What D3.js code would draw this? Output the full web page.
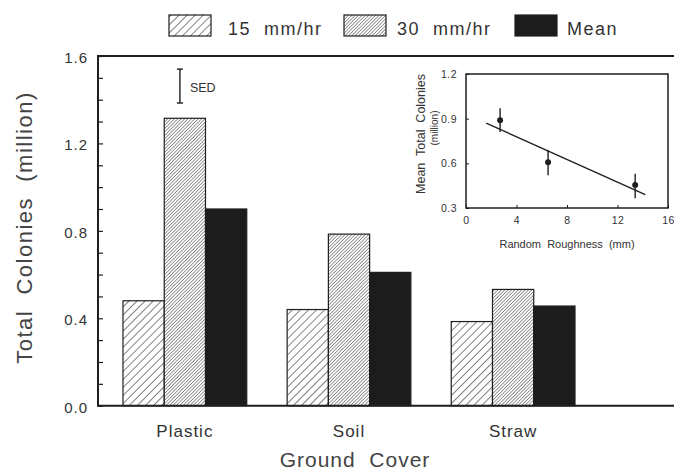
<!DOCTYPE html>
<html>
<head>
<meta charset="utf-8">
<script src="https://cdn.jsdelivr.net/npm/d3@7/dist/d3.min.js"></script>
<style>
  html, body { margin: 0; padding: 0; background: #fff; }
  svg { display: block; font-family: "Liberation Sans", Arial, Helvetica, sans-serif; }
  text { white-space: pre; }
</style>
</head>
<body>
<svg id="chart" width="674" height="472"></svg>
<script>
// ---------- data ----------
const categories = ["Plastic", "Soil", "Straw"];
const seriesNames = ["15  mm/hr", "30  mm/hr", "Mean"];
const values15 = [0.48, 0.44, 0.385];
const values30 = [1.315, 0.785, 0.532];
const valuesMean = [0.90, 0.61, 0.456];
const yTicks = [0.0, 0.4, 0.8, 1.2, 1.6];
const sedRange = [1.385, 1.54];

// inset data
const roughness = [2.7, 6.5, 13.4];
const meanColonies = [0.89, 0.607, 0.455];
const errLow = [0.81, 0.52, 0.365];
const errHigh = [0.97, 0.69, 0.53];
const fitX = [1.6, 14.2];
const fitY = [0.87, 0.39];
const insetXTicks = [0, 4, 8, 12, 16];
const insetYTicks = [0.3, 0.6, 0.9, 1.2];

(function () {
// ---------- setup ----------
const svg = d3.select("#chart");
const ink = "#1e1e1e";
const txt = "#333";

const defs = svg.append("defs");
function hatch(id, spacing, width) {
  const p = defs.append("pattern")
    .attr("id", id)
    .attr("patternUnits", "userSpaceOnUse")
    .attr("width", spacing).attr("height", spacing)
    .attr("patternTransform", "rotate(45)");
  p.append("rect").attr("width", spacing).attr("height", spacing).attr("fill", "#fff");
  p.append("line").attr("x1", 0).attr("y1", 0).attr("x2", 0).attr("y2", spacing)
    .attr("stroke", ink).attr("stroke-width", width);
}
hatch("h15", 5.7, 1.1);
hatch("h30", 2.4, 0.9);
const fills = ["url(#h15)", "url(#h30)", "#1c1c1c"];

// ---------- main chart ----------
const mLeft = 98, mTop = 56, mBottom = 405.7, mRight = 690;
const y = d3.scaleLinear().domain([0, 1.6]).range([mBottom, mTop]);
const x0 = d3.scaleBand().domain(categories).range([123, 575]).paddingInner(0.246).paddingOuter(0);
const x1 = d3.scaleBand().domain(seriesNames).range([0, x0.bandwidth()]).padding(0);

const rows = categories.map((c, i) => ({
  cat: c,
  vals: [values15[i], values30[i], valuesMean[i]]
}));

const groups = svg.append("g").selectAll("g").data(rows).join("g")
  .attr("transform", d => `translate(${x0(d.cat)},0)`);
groups.selectAll("rect").data(d => d.vals.map((v, k) => ({ v, k })))
  .join("rect")
  .attr("x", d => x1(seriesNames[d.k]))
  .attr("y", d => y(d.v))
  .attr("width", x1.bandwidth())
  .attr("height", d => y(0) - y(d.v))
  .attr("fill", d => fills[d.k])
  .attr("stroke", ink)
  .attr("stroke-width", 1.2);

// y axis with inward ticks every 0.1
const minor = d3.range(0, 17).map(i => i / 10);
const yAxis = d3.axisLeft(y).tickValues(minor)
  .tickSizeInner(-5).tickSizeOuter(0).tickPadding(10)
  .tickFormat(d => yTicks.some(t => Math.abs(t - d) < 1e-6) ? d3.format(".1f")(d) : "");
const ya = svg.append("g").attr("transform", `translate(${mLeft},0)`).call(yAxis);
ya.select(".domain").remove();
ya.selectAll("line").attr("stroke", ink).attr("stroke-width", 1.2);
ya.selectAll("text").attr("font-size", 15).attr("fill", txt)
  .attr("letter-spacing", 1).attr("dy", "0.42em");

// frame
svg.append("line").attr("x1", mLeft).attr("x2", mLeft).attr("y1", mTop).attr("y2", mBottom)
  .attr("stroke", ink).attr("stroke-width", 2);
svg.append("line").attr("x1", mLeft - 1).attr("x2", mRight).attr("y1", mTop).attr("y2", mTop)
  .attr("stroke", ink).attr("stroke-width", 2);
svg.append("line").attr("x1", mLeft - 1).attr("x2", mRight).attr("y1", mBottom).attr("y2", mBottom)
  .attr("stroke", ink).attr("stroke-width", 2);

// category labels
svg.append("g").selectAll("text").data(categories).join("text")
  .attr("x", d => x0(d) + x0.bandwidth() / 2)
  .attr("y", 437)
  .attr("text-anchor", "middle")
  .attr("font-size", 17).attr("letter-spacing", 1).attr("fill", txt)
  .text(d => d);

// axis titles
svg.append("text").attr("x", 355).attr("y", 467).attr("text-anchor", "middle")
  .attr("font-size", 21).attr("letter-spacing", 1).attr("fill", "#444")
  .text("Ground  Cover");
svg.append("text").attr("transform", "translate(32,227.5) rotate(-90)")
  .attr("text-anchor", "middle")
  .attr("font-size", 22).attr("letter-spacing", 1.5).attr("fill", "#444")
  .text("Total  Colonies  (million)");

// SED bar
const sedX = x0("Plastic") + x1.bandwidth() * 1.38;
const sed = svg.append("g").attr("stroke", ink).attr("stroke-width", 1.4);
sed.append("line").attr("x1", sedX).attr("x2", sedX).attr("y1", y(sedRange[0])).attr("y2", y(sedRange[1]));
sed.append("line").attr("x1", sedX - 3).attr("x2", sedX + 3).attr("y1", y(sedRange[0])).attr("y2", y(sedRange[0]));
sed.append("line").attr("x1", sedX - 3).attr("x2", sedX + 3).attr("y1", y(sedRange[1])).attr("y2", y(sedRange[1]));
svg.append("text").attr("x", sedX + 10).attr("y", 92)
  .attr("font-size", 12.5).attr("fill", txt).text("SED");

// legend
const legendItems = [
  { name: seriesNames[0], fill: fills[0], bx: 169, tx: 228 },
  { name: seriesNames[1], fill: fills[1], bx: 344, tx: 397 },
  { name: seriesNames[2], fill: fills[2], bx: 515, tx: 567 }
];
const lg = svg.append("g");
lg.selectAll("rect").data(legendItems).join("rect")
  .attr("x", d => d.bx).attr("y", 15).attr("width", 42).attr("height", 21)
  .attr("fill", d => d.fill).attr("stroke", ink).attr("stroke-width", 1.2);
lg.selectAll("text").data(legendItems).join("text")
  .attr("x", d => d.tx).attr("y", 35)
  .attr("font-size", 18).attr("letter-spacing", 1.5).attr("fill", txt)
  .text(d => d.name);

// ---------- inset ----------
const ix = d3.scaleLinear().domain([0, 16]).range([466, 668]);
const iy = d3.scaleLinear().domain([0.3, 1.2]).range([208, 74]);
const inset = svg.append("g");
inset.append("rect").attr("x", ix(0)).attr("y", iy(1.2))
  .attr("width", ix(16) - ix(0)).attr("height", iy(0.3) - iy(1.2))
  .attr("fill", "#fff").attr("stroke", ink).attr("stroke-width", 1.5);

const ixa = inset.append("g").attr("transform", `translate(0,${iy(0.3)})`)
  .call(d3.axisBottom(ix).tickValues(insetXTicks).tickSizeInner(-3).tickSizeOuter(0).tickPadding(9).tickFormat(d3.format("d")));
ixa.select(".domain").remove();
ixa.selectAll("line").attr("stroke", ink);
ixa.selectAll("text").attr("font-size", 10.5).attr("fill", txt).attr("letter-spacing", 0.5);

const iya = inset.append("g").attr("transform", `translate(${ix(0)},0)`)
  .call(d3.axisLeft(iy).tickValues(insetYTicks).tickSizeInner(-3).tickSizeOuter(0).tickPadding(9).tickFormat(d3.format(".1f")));
iya.select(".domain").remove();
iya.selectAll("line").attr("stroke", ink);
iya.selectAll("text").attr("font-size", 10.5).attr("fill", txt).attr("letter-spacing", 0.5);

// regression line
inset.append("line")
  .attr("x1", ix(fitX[0])).attr("y1", iy(fitY[0]))
  .attr("x2", ix(fitX[1])).attr("y2", iy(fitY[1]))
  .attr("stroke", ink).attr("stroke-width", 1.3);

// error bars and points
const pts = roughness.map((r, i) => ({ r, m: meanColonies[i], lo: errLow[i], hi: errHigh[i] }));
inset.append("g").selectAll("line").data(pts).join("line")
  .attr("x1", d => ix(d.r)).attr("x2", d => ix(d.r))
  .attr("y1", d => iy(d.lo)).attr("y2", d => iy(d.hi))
  .attr("stroke", ink).attr("stroke-width", 1.4);
inset.append("g").selectAll("circle").data(pts).join("circle")
  .attr("cx", d => ix(d.r)).attr("cy", d => iy(d.m)).attr("r", 3)
  .attr("fill", ink);

// inset titles
inset.append("text").attr("x", 567).attr("y", 248).attr("text-anchor", "middle")
  .attr("font-size", 11).attr("fill", txt).text("Random  Roughness  (mm)");
inset.append("text").attr("transform", "translate(425,134) rotate(-90)")
  .attr("text-anchor", "middle").attr("font-size", 12.5).attr("fill", txt)
  .text("Mean  Total  Colonies");
inset.append("text").attr("transform", "translate(438,128) rotate(-90)")
  .attr("text-anchor", "middle").attr("font-size", 10).attr("fill", txt)
  .text("(million)");
})();
</script>
</body>
</html>
